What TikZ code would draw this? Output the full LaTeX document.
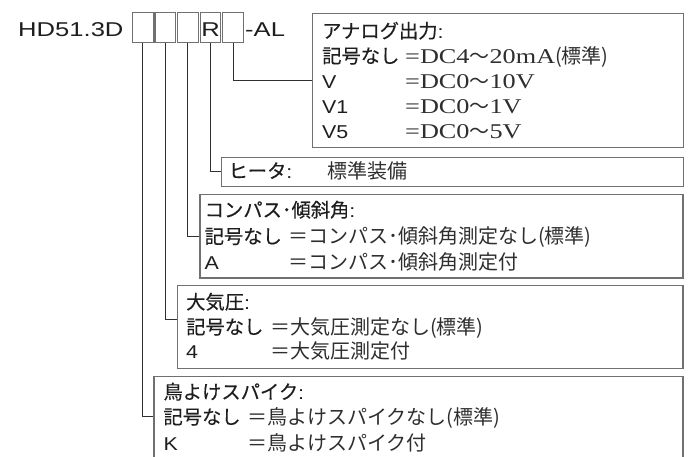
\documentclass[tikz,border=0pt]{standalone}
\usepackage{fontspec}
\newfontfamily\jp[FakeBold=0.3]{Noto Sans CJK JP}
\newfontfamily\jpv{Noto Sans CJK JP}
\newfontfamily\wsans[FakeStretch=1.15]{Liberation Sans}
\newfontfamily\wsansT[FakeStretch=1.28]{Liberation Sans}
\newfontfamily\cent[FakeStretch=1.25]{Liberation Serif}
\newcommand\Lt[1]{{\wsans\fontsize{18.6}{20}\selectfont #1}}
\newcommand\Sf[1]{{\cent\fontsize{21}{22}\selectfont #1}}
\definecolor{bgray}{HTML}{707070}
\definecolor{lgray}{HTML}{303030}
\definecolor{tcol}{HTML}{1E1E1E}
\definecolor{vcol}{HTML}{2E2E2E}
\begin{document}
\begin{tikzpicture}[x=1pt,y=-1pt,
  codebox/.style={draw=bgray,line width=1.1pt,minimum width=20.7pt,minimum height=29.5pt,inner sep=0pt},
  optbox/.style={draw=bgray,line width=1.2pt,inner sep=0pt,anchor=north west},
  conn/.style={draw=lgray,line width=0.9pt},
  lab/.style={anchor=base west,inner sep=0pt,text=tcol,font=\jp\fontsize{19.3}{21}\selectfont},
  val/.style={anchor=base west,inner sep=0pt,text=vcol,font=\jpv\fontsize{20}{22}\selectfont},
  ttl/.style={anchor=base west,inner sep=0pt,text=tcol,font=\wsansT\fontsize{20}{22}\selectfont}]
\useasboundingbox (0,0) rectangle (691,456);
\clip (0,0) rectangle (691,456);
% title and code boxes
\node[ttl] (hd) at (18,36) {HD51.3D};
\node[codebox] (b1) at (142.7,27.5) {};
\node[codebox] (b2) at (165.3,27.5) {};
\node[codebox] (b3) at (187.9,27.5) {};
\node[codebox] (b4) at (210.5,27.5) {};
\node[codebox] (b5) at (233.1,27.5) {};
\node[ttl,anchor=base] (r) at (b4.center |- hd.base) {R};
\node[ttl] (al) at (245,36) {-AL};
% option boxes
\node[optbox,minimum width=370.7pt,minimum height=134pt] (ana) at (312,12.7) {};
\node[optbox,minimum width=461.7pt,minimum height=29pt] (heat) at (221,156.7) {};
\node[optbox,minimum width=483pt,minimum height=83.3pt] (comp) at (199.3,194) {};
\node[optbox,minimum width=505.6pt,minimum height=82.7pt] (atm) at (176.7,285) {};
\node[optbox,minimum width=529pt,minimum height=81pt] (bird) at (153.3,375.7) {};
% connectors
\draw[conn] (b5.south) |- (ana.west);
\draw[conn] (b4.south) |- (heat.west);
\draw[conn] (b3.south) |- (comp.west);
\draw[conn] (b2.south) |- ([yshift=7.5pt]atm.west);
\draw[conn] (b1.south) |- (bird.west);
% analog output
\node[lab] (a1) at (322,38) {アナログ出力\Lt{:}};
\node[lab] (a2) at (322,63) {記号なし};
\node[lab] (a3) at (322,88) {\Lt{V}};
\node[lab] (a4) at (322,113) {\Lt{V1}};
\node[lab] (a5) at (322,138) {\Lt{V5}};
\node[val] (a2v) at (405,63) {\Sf{=DC4}〜\Sf{20mA}(標準)};
\node[val] (a3v) at (405,88) {\Sf{=DC0}〜\Sf{10V}};
\node[val] (a4v) at (405,113) {\Sf{=DC0}〜\Sf{1V}};
\node[val] (a5v) at (405,138) {\Sf{=DC0}〜\Sf{5V}};
% heater
\node[lab] (h1) at (228.3,178) {ヒータ\Lt{:}};
\node[val] (h2) at (327,178) {標準装備};
% compass / tilt
\node[lab] (c1) at (204.5,217) {コンパス･傾斜角\Lt{:}};
\node[lab] (c2) at (204.5,243.5) {記号なし};
\node[lab] (c3) at (204.5,269) {\Lt{A}};
\node[val] (c2v) at (288,243.5) {＝コンパス･傾斜角測定なし(標準)};
\node[val] (c3v) at (288,269) {＝コンパス･傾斜角測定付};
% barometric pressure
\node[lab] (p1) at (186,309) {大気圧\Lt{:}};
\node[lab] (p2) at (186,334) {記号なし};
\node[lab] (p3) at (186,358) {\Lt{4}};
\node[val] (p2v) at (270,334) {＝大気圧測定なし(標準)};
\node[val] (p3v) at (270,358) {＝大気圧測定付};
% bird spike
\node[lab] (s1) at (163.3,399) {鳥よけスパイク\Lt{:}};
\node[lab] (s2) at (163.3,424) {記号なし};
\node[lab] (s3) at (163.3,450) {\Lt{K}};
\node[val] (s2v) at (247,424) {＝鳥よけスパイクなし(標準)};
\node[val] (s3v) at (247,450) {＝鳥よけスパイク付};
\end{tikzpicture}
\end{document}
